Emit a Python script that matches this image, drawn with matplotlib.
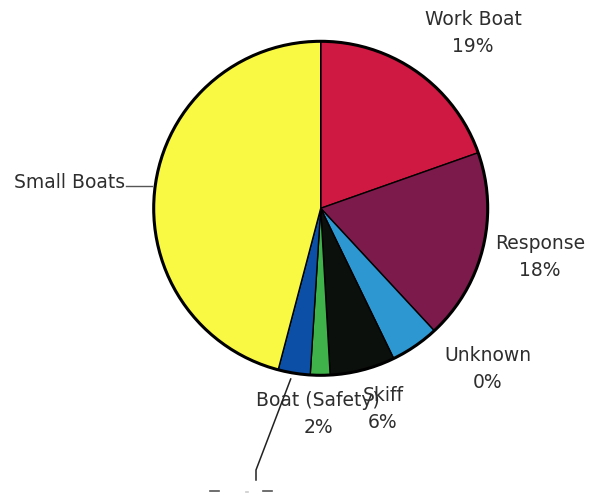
import matplotlib
matplotlib.use("Agg")
import matplotlib.pyplot as plt
from matplotlib.patches import Circle

# slice sizes (percent), clockwise from 12 o'clock
names = ["Work Boat", "Response", "Unknown", "Skiff", "Safety", "Boat (Safety)", "Small Boats"]
shares = [19.6, 18.5, 4.7, 6.3, 1.9, 3.1, 45.9]
colors = ["#cf1842", "#7b1a4b", "#2c97d0", "#0c100c", "#3fb24a", "#0b4fa6", "#f9f843"]

# printed labels as they appear in the chart
label_text = ["Work Boat\n19%", "Response\n18%", "Unknown\n0%", "Skiff\n6%",
              "Boat (Safety)\n2%", "Small Boats"]
# label centres in image pixels (x, y from top)
label_pos = [(473, 33), (540, 257), (488, 369), (383, 409), (318, 414), (70, 183)]

W, H = 590, 495
fig = plt.figure(figsize=(W / 100, H / 100), dpi=100)
ax = fig.add_axes([0, 0, 1, 1])

cx, cy, r = 320.7, H - 208.3, 167
ax.pie(shares, colors=colors, startangle=90, counterclock=False,
       center=(cx, cy), radius=r, frame=True,
       wedgeprops=dict(edgecolor="black", linewidth=1.0))
ax.add_patch(Circle((cx, cy), r, fill=False, edgecolor="black", linewidth=2.2, zorder=5))
ax.set_xlim(0, W)
ax.set_ylim(0, H)
ax.set_aspect("equal")
ax.axis("off")

for txt, (x, y) in zip(label_text, label_pos):
    ax.text(x, H - y, txt, ha="center", va="center", fontsize=13.5,
            color="#2e2e2e", linespacing=1.55, family="DejaVu Sans", zorder=6)

# leader lines
ax.plot([126, 152], [H - 186, H - 186], color="#555555", lw=1.0, zorder=6)
ax.plot([290.7, 256, 256], [H - 379, H - 470, H - 480], color="#222222", lw=1.1, zorder=6)

# clipped fragments at the bottom edge (cut-off marks in the scan)
ax.plot([210, 219], [H - 491, H - 491], color="#555555", lw=1.2)
ax.plot([263, 272], [H - 491, H - 491], color="#555555", lw=1.2)
ax.plot([246, 248], [H - 492, H - 492], color="#cccccc", lw=1.2)

fig.savefig("out.png", dpi=100, facecolor="white")
